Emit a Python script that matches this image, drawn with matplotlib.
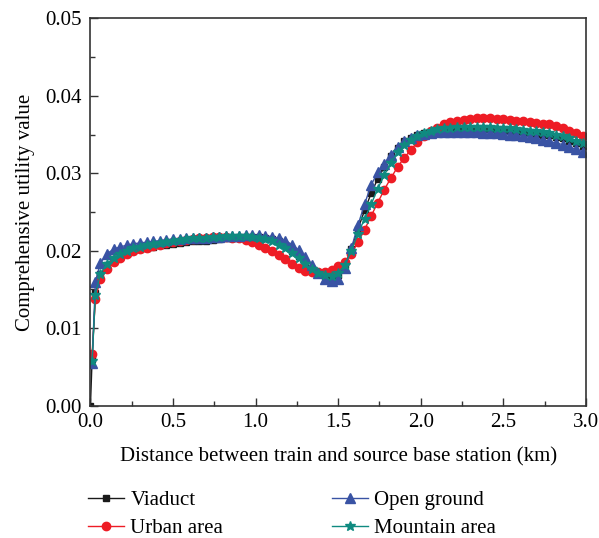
import numpy as np
import matplotlib.pyplot as plt
from matplotlib.ticker import MultipleLocator

# distance grid (km)
distance = np.concatenate([[0.0, 0.01, 0.03, 0.06], np.round(np.arange(0.10, 2.99, 0.04), 2)])

viaduct = [
    0.0, 0.0060, 0.0145, 0.0170, 0.0182, 0.0189, 0.0194, 0.0197, 0.0200, 0.0202,
    0.0204, 0.0205, 0.0207, 0.0208, 0.0209, 0.0210, 0.0211, 0.0212, 0.0212, 0.0213,
    0.0214, 0.0215, 0.0216, 0.0217, 0.0218, 0.0218, 0.0218, 0.0218, 0.0217, 0.0215,
    0.0212, 0.0207, 0.0200, 0.0193, 0.0185, 0.0177, 0.0171, 0.0167, 0.0165, 0.0169,
    0.0181, 0.0202, 0.0228, 0.0252, 0.0274, 0.0293, 0.0308, 0.0322, 0.0333, 0.0341,
    0.0346, 0.0350, 0.0352, 0.0354, 0.0355, 0.0356, 0.0357, 0.0357, 0.0357, 0.0357,
    0.0357, 0.0357, 0.0357, 0.0356, 0.0356, 0.0355, 0.0354, 0.0353, 0.0352, 0.0351,
    0.0350, 0.0349, 0.0347, 0.0345, 0.0342, 0.0339, 0.0335,
]

urban = [
    np.nan, 0.0067, 0.0138, 0.0163, 0.0176, 0.0185, 0.0191, 0.0196, 0.0199, 0.0202,
    0.0204, 0.0206, 0.0208, 0.0210, 0.0211, 0.0213, 0.0214, 0.0215, 0.0216, 0.0217,
    0.0218, 0.0218, 0.0218, 0.0217, 0.0216, 0.0214, 0.0211, 0.0207, 0.0203, 0.0199,
    0.0194, 0.0189, 0.0183, 0.0178, 0.0174, 0.0172, 0.0172, 0.0173, 0.0175, 0.0180,
    0.0186, 0.0196, 0.0211, 0.0227, 0.0245, 0.0262, 0.0279, 0.0294, 0.0308, 0.0320,
    0.0330, 0.0340, 0.0348, 0.0354, 0.0359, 0.0363, 0.0366, 0.0368, 0.0369, 0.0370,
    0.0371, 0.0371, 0.0371, 0.0370, 0.0370, 0.0369, 0.0368, 0.0367, 0.0366, 0.0365,
    0.0364, 0.0363, 0.0361, 0.0358, 0.0355, 0.0352, 0.0348,
]

open_ground = [
    np.nan, 0.0055, 0.0160, 0.0184, 0.0196, 0.0202, 0.0205, 0.0207, 0.0209, 0.0210,
    0.0211, 0.0212, 0.0213, 0.0214, 0.0215, 0.0215, 0.0216, 0.0216, 0.0217, 0.0217,
    0.0218, 0.0218, 0.0219, 0.0219, 0.0219, 0.0220, 0.0220, 0.0220, 0.0219, 0.0218,
    0.0216, 0.0213, 0.0208, 0.0201, 0.0192, 0.0181, 0.0171, 0.0164, 0.0161, 0.0164,
    0.0178, 0.0203, 0.0233, 0.0260, 0.0285, 0.0301, 0.0312, 0.0324, 0.0334, 0.0342,
    0.0346, 0.0349, 0.0351, 0.0352, 0.0353, 0.0353, 0.0353, 0.0353, 0.0353, 0.0353,
    0.0353, 0.0352, 0.0352, 0.0352, 0.0351, 0.0350, 0.0349, 0.0348, 0.0347, 0.0345,
    0.0343, 0.0341, 0.0339, 0.0337, 0.0334, 0.0331, 0.0328,
]

mountain = [
    np.nan, 0.0058, 0.0143, 0.0170, 0.0183, 0.0191, 0.0196, 0.0200, 0.0203, 0.0205,
    0.0207, 0.0209, 0.0210, 0.0211, 0.0213, 0.0214, 0.0215, 0.0216, 0.0216, 0.0217,
    0.0218, 0.0218, 0.0219, 0.0219, 0.0219, 0.0219, 0.0218, 0.0217, 0.0215, 0.0212,
    0.0208, 0.0203, 0.0197, 0.0190, 0.0183, 0.0176, 0.0171, 0.0168, 0.0167, 0.0171,
    0.0182, 0.0200, 0.0222, 0.0241, 0.0260, 0.0280, 0.0298, 0.0313, 0.0327, 0.0336,
    0.0343, 0.0348, 0.0352, 0.0355, 0.0357, 0.0358, 0.0359, 0.0360, 0.0360, 0.0360,
    0.0360, 0.0360, 0.0360, 0.0359, 0.0359, 0.0358, 0.0357, 0.0356, 0.0355, 0.0354,
    0.0353, 0.0352, 0.0350, 0.0348, 0.0345, 0.0342, 0.0339,
]

plt.rcParams['font.family'] = ['Liberation Serif', 'DejaVu Serif']

fig = plt.figure(figsize=(5.99, 5.38), dpi=100)
ax = fig.add_axes([0.151, 0.246, 0.827, 0.72])

series = [
    ('Viaduct', viaduct, '#1a1a1a', 's', 5.0),
    ('Urban area', urban, '#ee1c25', 'o', 6.0),
    ('Open ground', open_ground, '#3953a4', '^', 6.5),
    ('Mountain area', mountain, '#0f8a80', '*', 7.5),
]
for label, vals, color, marker, ms in series:
    ax.plot(distance, vals, '-', color=color, marker=marker, markersize=ms,
            linewidth=1.0, label=label)

ax.set_xlim(0, 3.0)
ax.set_ylim(0, 0.05)
ax.xaxis.set_major_locator(MultipleLocator(0.5))
ax.xaxis.set_minor_locator(MultipleLocator(0.25))
ax.yaxis.set_major_locator(MultipleLocator(0.01))
ax.yaxis.set_minor_locator(MultipleLocator(0.005))
ax.xaxis.set_major_formatter(plt.FuncFormatter(lambda v, p: f"{v:.1f}"))
ax.yaxis.set_major_formatter(plt.FuncFormatter(lambda v, p: f"{v:.2f}"))
ax.tick_params(which='both', direction='in', top=False, right=False,
               labelsize=15, color='#333333')
ax.tick_params(which='major', length=6, width=1)
ax.tick_params(which='minor', length=3.5, width=1)
ax.tick_params(axis='y', which='major', pad=6)
ax.tick_params(axis='x', which='major', pad=5)
for s in ax.spines.values():
    s.set_color('#333333')
    s.set_linewidth(1.2)

ax.set_xlabel('Distance between train and source base station (km)', fontsize=15, labelpad=11)
ax.set_ylabel('Comprehensive utility value', fontsize=15, labelpad=8)

fig.legend(loc='lower left', bbox_to_anchor=(0.115, -0.035), ncol=2, frameon=False,
           fontsize=15, columnspacing=5.2, handlelength=1.75, handletextpad=0.3,
           labelspacing=0.4)

fig.savefig('out.png', dpi=100)
